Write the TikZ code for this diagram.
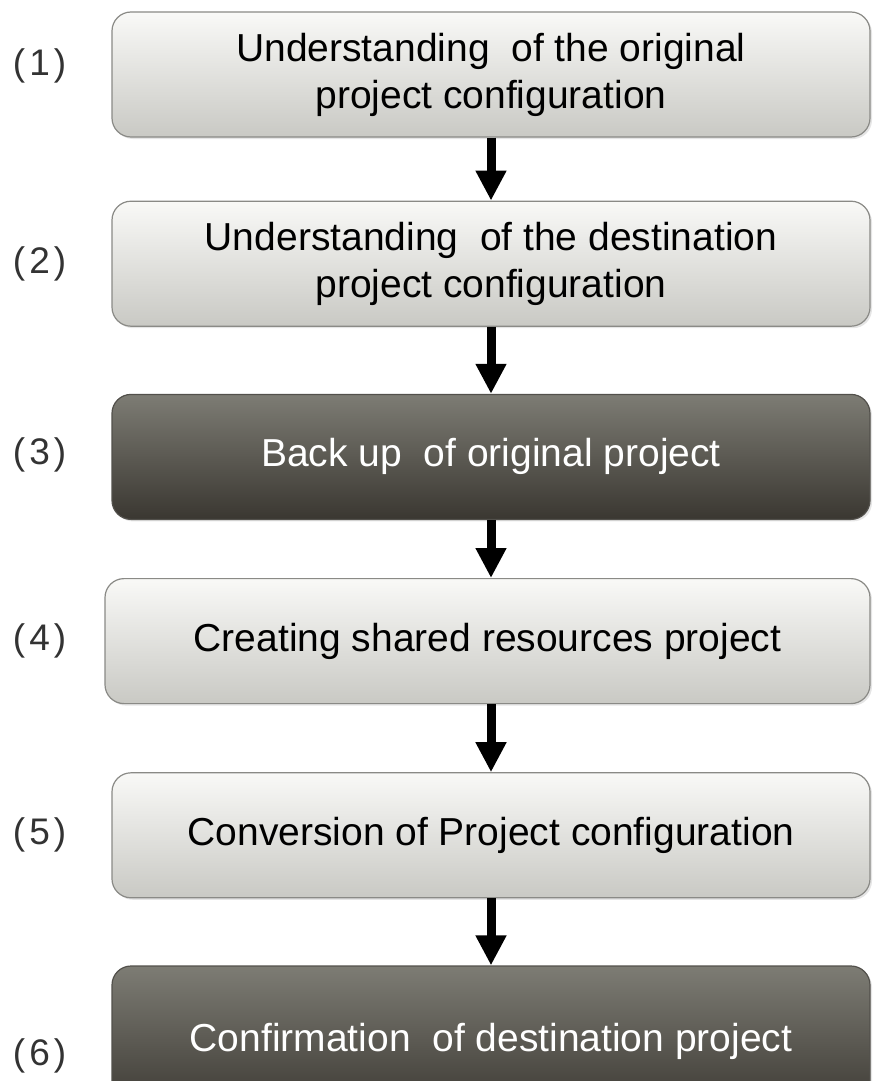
\documentclass[tikz,border=0pt]{standalone}
\usepackage{fontspec}
\setmainfont{Liberation Sans}
\usetikzlibrary{positioning, shapes, arrows.meta, shadows}
\definecolor{stepLightTop}{HTML}{F9F9F7}
\definecolor{stepLightBot}{HTML}{C9C9C4}
\definecolor{stepDarkTop}{HTML}{7D7C74}
\definecolor{stepDarkBot}{HTML}{3A3731}
\definecolor{stepBorder}{HTML}{8A8A86}
\tikzset{
    stepBoxBase/.style={
        rectangle,
        draw=stepBorder,
        line width=1.2pt,
        rounded corners=19pt,
        minimum height=125pt,
        minimum width=758pt,
        font=\fontsize{39}{47}\selectfont,
        align=center,
        drop shadow={opacity=0.2, shadow xshift=2pt, shadow yshift=-2pt},
        inner sep=0pt
    },
    % Step variants
    lightstep/.style={stepBoxBase, top color=stepLightTop, bottom color=stepLightBot, text=black},
    darkstep/.style={stepBoxBase, top color=stepDarkTop, bottom color=stepDarkBot, draw=stepDarkBot!70!stepBorder, text=white},
    % Numbers and arrows
    stepNum/.style={font=\fontsize{37}{37}\selectfont, text=black!80, inner sep=0pt},
    stepArrow/.style={-{Triangle[width=29pt, length=30pt]}, line width=9pt, draw=black}
}
\newcommand{\stepno}[1]{(\hspace{4pt}#1\hspace{4pt})}

\begin{document}
\begin{tikzpicture}[x=1pt, y=-1pt]
\clip (0,0) rectangle (874,1081);
\fill[white] (0,0) rectangle (874,1081);

\node[lightstep] (b1) at (491,74.5) {Understanding~ of the original\\project configuration};
\node[lightstep, below=63pt of b1] (b2) {Understanding~ of the destination\\project configuration};
\node[darkstep, below=67pt of b2] (b3) {Back up~ of original project};
\node[lightstep, below=58pt of b3, xshift=-3.5pt, minimum width=765pt] (b4) {Creating shared resources project};
\node[lightstep, below=68pt of b4, xshift=3.5pt] (b5) {Conversion of Project configuration};
\node[darkstep, below=67pt of b5, minimum height=150pt] (b6) {Confirmation~ of destination project};

\draw[stepArrow] (b1) -- (b2);
\draw[stepArrow] (b2) -- (b3);
\draw[stepArrow] (b3) -- (b4.north -| b3);
\draw[stepArrow] (b4.south -| b5) -- (b5);
\draw[stepArrow] (b5) -- (b6);

\node[stepNum, left=45pt of b1, yshift=9pt] (n1) {\stepno{1}};
\node[stepNum, left=45pt of b2] (n2) {\stepno{2}};
\node[stepNum, left=45pt of b3, yshift=2pt] (n3) {\stepno{3}};
\node[stepNum, left=38pt of b4] (n4) {\stepno{4}};
\node[stepNum, left=45pt of b5] (n5) {\stepno{5}};
\node[stepNum, left=45pt of b6, yshift=-15pt] (n6) {\stepno{6}};
\end{tikzpicture}
\end{document}
